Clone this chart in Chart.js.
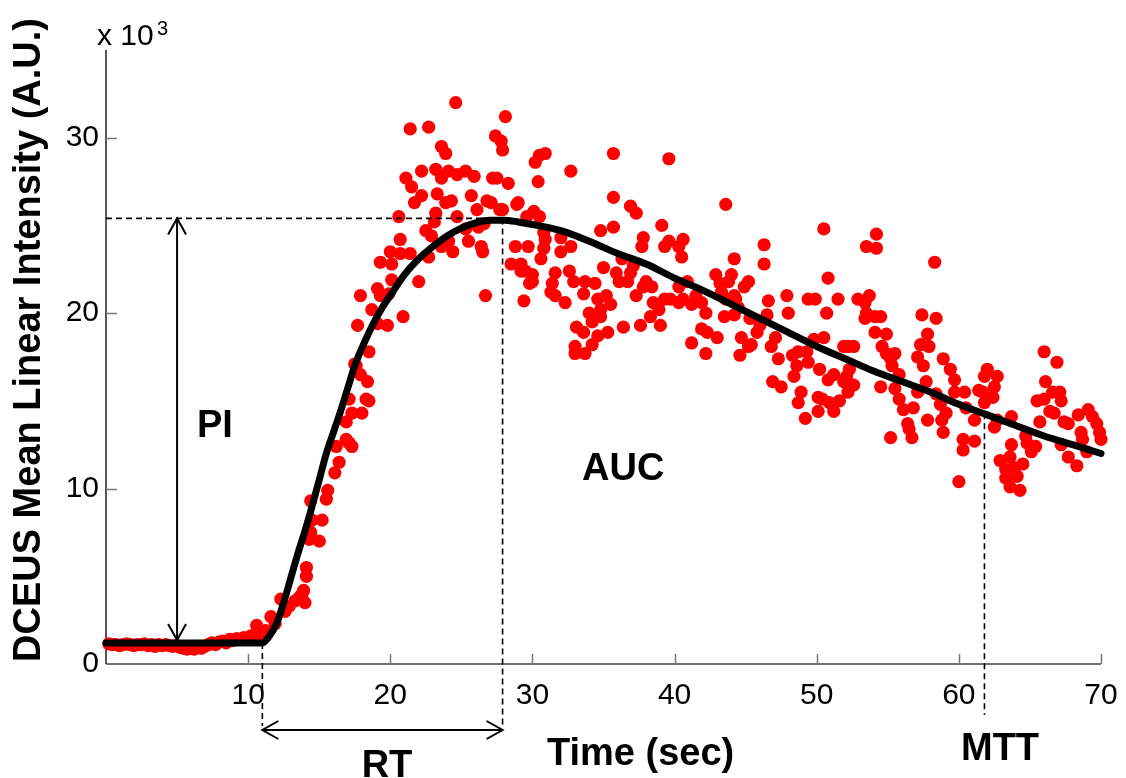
<!DOCTYPE html>
<html>
<head>
<meta charset="utf-8">
<script src="https://cdn.jsdelivr.net/npm/chart.js@4.4.0/dist/chart.umd.min.js"></script>
<style>
  html, body { margin: 0; padding: 0; background: #fff; }
  #wrap { width: 1126px; height: 778px; }
</style>
</head>
<body>
<div id="wrap"><canvas id="curve" width="1126" height="778"></canvas></div>
<script>
// tick values (time in sec, intensity in x10^3 A.U.)
const xTicks = [10, 20, 30, 40, 50, 60, 70];
const yTicks = [0, 10, 20, 30];

// fitted perfusion model curve
const fitTime = [0, 2, 4, 6, 8, 10, 11, 11.5, 12, 12.5, 13, 13.5, 14, 14.5, 15, 15.5, 16, 16.5, 17, 17.5,
  18, 18.5, 19, 19.5, 20, 21, 22, 23, 24, 25, 26, 27, 28, 29, 30, 32, 34, 36, 38, 40,
  42, 44, 46, 48, 50, 52, 54, 56, 58, 60, 62, 64, 66, 68, 70];
const fitValue = [1.2, 1.2, 1.2, 1.2, 1.2, 1.2, 1.2, 1.6, 2.3, 3.5, 4.9, 6.3, 7.6, 9.0, 10.5, 12.0, 13.2, 14.4, 15.7, 17.0,
  18.0, 18.9, 19.7, 20.4, 21.0, 22.2, 23.1, 23.8, 24.4, 24.85, 25.15, 25.3, 25.3, 25.2, 25.05, 24.7, 24.1, 23.4, 22.8, 22.0,
  21.3, 20.5, 19.7, 18.9, 18.1, 17.4, 16.7, 16.1, 15.5, 14.8, 14.2, 13.6, 13.0, 12.5, 12.0];

// measured samples [time, intensity]
const baselineSamples = [
  [0.2,1.15],[0.45,1.1],[0.7,1.1],[0.95,1.05],[1.2,1.1],[1.45,1.15],[1.7,1.1],[1.95,1.05],[2.2,1.1],[2.45,1.1],
  [2.7,1.15],[2.95,1.05],[3.2,1.1],[3.45,1.0],[3.7,1.1],[3.95,1.05],[4.2,1.1],[4.45,1.05],[4.7,1.0],[4.95,1.05],
  [5.2,0.95],[5.45,0.9],[5.7,0.85],[5.95,0.9],[6.2,0.85],[6.45,0.95],[6.7,0.9],[6.95,1.0],[7.2,1.1],[7.45,1.2],
  [7.7,1.1],[7.95,1.25],[8.2,1.3],[8.45,1.2],[8.7,1.4],[8.95,1.35],[9.2,1.45],[9.45,1.4],[9.7,1.5],[9.95,1.45],
  [10.2,1.6],[10.45,1.55],[10.7,1.7],[10.95,1.65]
];
const washInSamples = [
  [10.6,2.2],[11.2,1.9],[11.6,2.7],[11.9,2.3],[12.3,3.7],[12.6,3.0],[12.9,3.3],[13.3,3.6],[13.6,3.8],[13.8,4.0],
  [13.9,4.2],[14.0,3.5],[14.1,5.0],[14.1,5.5],[14.3,7.1],[14.4,7.5],[14.5,8.2],[14.4,9.3],[15.2,8.2],[15.0,7.0],
  [15.5,9.4],[15.6,9.9],[16.1,10.9],[16.4,11.5],[16.2,12.4],[16.9,12.8],[17.3,12.4],[17.1,12.6],[16.9,13.8],[17.3,14.3],
  [18.0,14.3],[17.1,15.1],[18.3,15.1],[18.5,15.0],[18.4,16.1],[17.9,16.5],[17.5,17.1],[17.6,17.0],[18.5,17.8],[17.7,19.3],
  [19.8,19.3],[19.1,19.4],[20.9,19.8],[18.7,20.2],[19.3,21.0],[19.1,21.4],[17.9,21.0],[19.9,21.1],[22.0,21.8],[20.1,21.9],
  [19.3,22.9],[20.1,22.8],[20.0,23.5],[20.7,23.4],[21.4,23.4],[20.7,24.2],[20.6,25.5]
];
const peakSamples = [
  [21.4,30.5],[22.7,30.6],[24.6,32.0],[27.4,30.1],[27.8,29.8],[27.9,29.3],[28.1,31.2],[23.6,29.5],[23.9,29.1],
  [21.5,27.2],[21.1,27.7],[22.2,28.1],[23.2,28.2],[24.1,28.1],[24.7,27.9],[25.3,28.1],[25.9,27.8],[27.2,27.7],[27.5,27.7],
  [28.3,27.4],[30.2,28.6],[30.4,27.5],[23.6,27.7],[30.9,29.1],[30.5,29.0],
  [21.7,26.3],[22.2,26.7],[23.3,26.8],[23.9,26.3],[24.3,26.4],[25.7,26.7],[27.1,26.3],[27.9,25.9],[28.9,26.2],[30.1,25.8],
  [26.1,25.9],[26.8,26.4],[27.7,25.9],[29.0,26.3],
  [23.1,25.2],[23.2,25.7],[24.7,25.5],[26.2,24.9],[25.3,24.8],[22.5,24.7],[22.9,24.4],[26.6,25.1],[29.6,25.5],[30.5,25.5],
  [23.6,23.8],[24.4,23.5],[24.1,24.1],[25.5,24.1],[26.4,23.8],[26.5,23.5],[22.7,23.2],[30.8,24.6],[30.9,24.2],
  [28.8,23.8],[29.7,23.8],[28.5,22.8],[29.2,22.8],[29.5,22.4],[30.0,21.8],[26.7,21.0],[29.4,20.7],[30.6,23.1],[30.8,23.7],
  [29.2,22.4],[30.0,22.2],[29.8,21.7],[31.6,22.3],[32.6,22.4],[31.4,21.7],[31.3,21.2],[32.9,21.8],[31.6,21.0],[32.3,20.6]
];
const washOutSamples = [
  [32.7,28.1],[35.7,29.1],[39.6,28.8],[35.7,26.6],[36.9,26.1],[37.3,25.7],[43.6,26.2],
  [34.8,24.7],[35.7,24.9],[32.0,24.3],[32.7,23.8],[32.0,23.5],[39.1,25.0],[37.8,24.3],[37.7,23.8],[39.6,24.1],[40.6,24.2],
  [40.3,23.8],[40.5,23.2],[39.3,23.8],[36.3,23.1],[37.1,22.7],[36.1,21.8],[36.7,21.8],[35.0,22.6],[35.9,22.3],
  [46.3,23.9],[46.3,22.8],[44.2,23.1],[50.5,24.8],[54.2,24.5],[53.5,23.8],[54.2,23.7],[58.3,22.9],[50.8,22.0],
  [33.7,21.8],[34.4,21.7],[33.6,21.1],[34.6,20.8],[35.2,21.0],[35.5,20.5],[34.0,20.0],[34.8,20.2],[34.2,19.5],[34.8,19.8],
  [33.1,19.2],[33.6,18.9],[34.6,18.7],[35.3,18.9],[34.2,18.2],[33.0,18.1],[33.0,17.7],[33.7,17.7],[36.4,19.2],[37.6,19.3],
  [37.3,21.0],[37.8,21.5],[38.4,21.5],[38.0,21.8],[36.9,22.3],[38.5,20.6],[38.9,20.2],[38.3,19.8],[39.0,19.3],[39.3,20.8],
  [39.7,20.8],[40.3,20.6],[40.6,20.8],[41.2,20.5],[40.9,21.8],[40.3,21.5],[41.5,21.0],[41.9,20.6],[42.2,20.0],[42.9,22.2],
  [43.2,21.7],[43.8,21.8],[43.3,21.2],[43.6,20.8],[44.0,22.2],[44.2,21.0],[44.3,20.8],[45.2,21.8],[44.9,21.5],[44.5,20.3],
  [43.5,19.8],[44.2,19.9],[41.9,19.1],[42.3,18.9],[43.0,18.6],[41.2,18.3],[42.2,17.7],[44.7,18.6],[44.6,17.6],[45.2,18.1],
  [45.4,18.2],[45.8,18.9],[46.5,19.9],[46.6,20.7],[45.3,19.7],[46.0,19.3],[47.1,18.6],[46.8,18.1],[47.3,17.4],[46.9,16.1],
  [47.5,15.8],[47.9,21.0],[48.0,20.0],[48.3,17.6],[48.7,17.8],[48.6,17.0],[49.3,17.8],[49.4,17.2],[48.4,16.4],[48.9,15.5],
  [48.7,14.9],[49.2,14.0],[50.2,16.8],[49.4,20.8],[49.9,20.8],[49.8,18.5],[50.5,18.6],[50.7,20.0],[50.1,15.2],[50.4,15.1],
  [50.1,14.4],[50.9,14.9],[51.2,14.4],[51.6,15.0],[50.8,16.2],[51.2,16.5],[51.5,20.8],[51.9,18.1],[52.2,18.1],[52.6,18.1],
  [52.1,16.4],[51.9,16.1],[52.6,15.9],[52.2,15.5],[52.3,16.8],[52.9,20.8],[53.4,20.6],[53.5,20.0],[53.4,19.7],[54.1,19.8],
  [53.7,21.0],[54.5,19.8],[54.1,18.9],[54.5,15.8],[54.9,18.8],[54.6,18.1],[54.9,17.7],[55.5,17.7],[55.2,17.4],[55.3,17.0],
  [55.8,16.5],[55.5,15.7],[55.8,15.1],[56.1,14.5],[55.2,12.9],[56.4,13.7],[56.5,13.4],[56.7,12.9],[56.8,14.6],[57.1,15.5],
  [57.1,17.5],[57.5,17.0],[57.4,19.9],[58.4,19.7],[57.8,18.8],[57.3,18.2],[57.9,18.1],[57.7,16.1],[58.4,15.4],[58.7,14.8],
  [57.8,13.9],[58.8,13.9],[58.9,13.2],[59.1,14.3],[59.4,16.8],[59.7,16.2],[58.9,17.4],[60.3,12.2],[60.3,12.8],[61.1,12.7],
  [60.0,10.4],[60.4,15.5],[59.7,15.5],[60.5,14.6],[61.1,13.9],[62.0,16.8],[61.8,16.4],[61.7,15.5],[61.4,15.6],[62.7,16.4],
  [62.5,15.8],[62.4,15.2],[61.8,14.9],[62.7,13.9],[62.5,13.5],[63.7,14.1],[63.7,12.5],[62.9,11.6],[63.6,11.8],[63.3,11.1],
  [63.3,10.6],[63.9,11.2],[64.1,10.7],[64.3,9.9],[63.6,10.1],[64.5,11.4],[64.8,12.6],[65.1,12.1],[65.4,12.4],[64.7,13.0],
  [65.7,13.8],[66.0,17.8],[66.9,17.2],[66.1,16.1],[66.0,15.1],[65.5,15.0],[66.6,15.5],[67.1,15.5],[67.2,15.0],[66.4,14.4],
  [66.7,14.3],[67.4,13.8],[67.7,13.7],[68.4,14.2],[69.1,14.5],[69.4,14.1],[69.7,13.7],[69.9,13.2],[70.0,12.8],[68.6,13.2],
  [68.7,12.8],[67.7,11.8],[68.3,11.3],[69.0,12.1],[67.2,12.5]
];

// perfusion parameters marked on the plot
const baselineValue = 1.2;
const peakValue = 25.4;
const peakTime = 27.9;
const arrivalTime = 11.0;
const piTime = 5.0;
const mttTime = 61.8;
const mttValue = 14.3;

const FONT = "'Liberation Sans', Arial, Helvetica, sans-serif";

function toPoints(list) {
  return list.map(p => ({ x: p[0], y: p[1] }));
}

function dashed(ctx, x1, y1, x2, y2) {
  ctx.save();
  ctx.setLineDash([6, 4]);
  ctx.lineWidth = 1.6;
  ctx.strokeStyle = '#000';
  ctx.beginPath();
  ctx.moveTo(x1, y1);
  ctx.lineTo(x2, y2);
  ctx.stroke();
  ctx.restore();
}

// open "V" head at (x, y) pointing along angle
function arrowHead(ctx, x, y, angle) {
  const len = 16, half = 9;
  ctx.beginPath();
  ctx.moveTo(x - len * Math.cos(angle) + half * Math.sin(angle), y - len * Math.sin(angle) - half * Math.cos(angle));
  ctx.lineTo(x, y);
  ctx.lineTo(x - len * Math.cos(angle) - half * Math.sin(angle), y - len * Math.sin(angle) + half * Math.cos(angle));
  ctx.stroke();
}

const annotations = {
  id: 'annotations',
  beforeDatasetsDraw(chart) {
    const ctx = chart.ctx, xs = chart.scales.x, ys = chart.scales.y;
    ctx.save();
    ctx.lineWidth = 1.5;
    // axes
    ctx.strokeStyle = '#222';
    ctx.beginPath();
    ctx.moveTo(xs.left, ys.top);
    ctx.lineTo(xs.left, ys.bottom);
    ctx.stroke();
    ctx.strokeStyle = '#444';
    ctx.beginPath();
    ctx.moveTo(xs.left, ys.bottom);
    ctx.lineTo(xs.right, ys.bottom);
    ctx.stroke();
    // inward tick marks
    ctx.strokeStyle = '#777';
    ctx.beginPath();
    xTicks.forEach(v => {
      const px = Math.round(xs.getPixelForValue(v)) + 0.5;
      ctx.moveTo(px, ys.bottom);
      ctx.lineTo(px, ys.bottom - 10);
    });
    yTicks.slice(1).forEach(v => {
      const py = Math.round(ys.getPixelForValue(v)) + 0.5;
      ctx.moveTo(xs.left, py);
      ctx.lineTo(xs.left + 11, py);
    });
    ctx.stroke();
    ctx.restore();
  },
  afterDatasetsDraw(chart) {
    const ctx = chart.ctx, xs = chart.scales.x, ys = chart.scales.y;
    const px = v => xs.getPixelForValue(v), py = v => ys.getPixelForValue(v);
    ctx.save();

    // peak and time markers
    dashed(ctx, xs.left, py(peakValue), px(peakTime), py(peakValue));
    dashed(ctx, px(peakTime), py(peakValue), px(peakTime), ys.bottom + 62);
    dashed(ctx, px(arrivalTime), py(baselineValue), px(arrivalTime), ys.bottom + 62);
    dashed(ctx, px(mttTime), py(mttValue), px(mttTime), ys.bottom + 51);

    ctx.strokeStyle = '#000';
    ctx.lineWidth = 2;
    // PI double arrow
    const ax = px(piTime), top = py(peakValue), bot = py(baselineValue) - 3;
    ctx.beginPath();
    ctx.moveTo(ax, top);
    ctx.lineTo(ax, bot);
    ctx.stroke();
    arrowHead(ctx, ax, top, -Math.PI / 2);
    arrowHead(ctx, ax, bot, Math.PI / 2);
    // RT double arrow
    const ry = ys.bottom + 66, rl = px(arrivalTime), rr = px(peakTime);
    ctx.beginPath();
    ctx.moveTo(rl, ry);
    ctx.lineTo(rr, ry);
    ctx.stroke();
    arrowHead(ctx, rl, ry, Math.PI);
    arrowHead(ctx, rr, ry, 0);

    // labels
    ctx.fillStyle = '#000';
    ctx.textBaseline = 'alphabetic';
    ctx.textAlign = 'left';
    ctx.font = 'bold 38px ' + FONT;
    ctx.fillText('PI', 197, 437);
    ctx.fillText('AUC', 582, 480);
    ctx.fillText('Time (sec)', 547, 765);
    ctx.fillText('MTT', 961, 760);
    ctx.textAlign = 'center';
    ctx.fillText('RT', 387, 777);

    // exponent note
    ctx.textAlign = 'left';
    ctx.font = '30px ' + FONT;
    ctx.fillText('x 10', 97, 45);
    ctx.font = '20px ' + FONT;
    ctx.fillText('3', 157, 35);

    // y axis title
    ctx.translate(40, 340);
    ctx.rotate(-Math.PI / 2);
    ctx.textAlign = 'center';
    ctx.font = 'bold 38px ' + FONT;
    ctx.fillText('DCEUS Mean Linear Intensity (A.U.)', 0, 0);
    ctx.restore();
  }
};

const fitPoints = fitTime.map((t, i) => ({ x: t, y: fitValue[i] }));
const samplePoints = toPoints(baselineSamples)
  .concat(toPoints(washInSamples), toPoints(peakSamples), toPoints(washOutSamples));

new Chart(document.getElementById('curve'), {
  type: 'line',
  data: {
    datasets: [{
      label: 'Fit',
      data: fitPoints,
      borderColor: '#000',
      borderWidth: 7,
      pointRadius: 0,
      cubicInterpolationMode: 'monotone',
      borderCapStyle: 'round',
      borderJoinStyle: 'round',
      fill: false,
      clip: false
    }, {
      label: 'Samples',
      data: samplePoints,
      showLine: false,
      pointRadius: 6.6,
      pointBorderWidth: 0,
      pointBackgroundColor: '#ff0000',
      pointBorderColor: '#ff0000',
      clip: false
    }]
  },
  options: {
    responsive: false,
    devicePixelRatio: 1,
    animation: false,
    layout: { padding: { left: 0, top: 50, right: 25, bottom: 0 } },
    plugins: { legend: { display: false }, tooltip: { enabled: false } },
    scales: {
      x: {
        type: 'linear',
        min: 0,
        max: 70,
        grid: { display: false, drawTicks: false },
        border: { display: false },
        afterBuildTicks: s => { s.ticks = xTicks.map(v => ({ value: v })); },
        afterFit: s => { s.height = 114; s.paddingLeft = 0; s.paddingRight = 0; },
        ticks: {
          color: '#000',
          padding: 14,
          maxRotation: 0,
          font: { family: FONT, size: 30 }
        }
      },
      y: {
        type: 'linear',
        min: 0,
        max: 35,
        grid: { display: false, drawTicks: false },
        border: { display: false },
        afterBuildTicks: s => { s.ticks = yTicks.map(v => ({ value: v })); },
        afterFit: s => { s.width = 106; s.paddingTop = 0; s.paddingBottom = 0; },
        ticks: {
          color: '#000',
          padding: 7,
          font: { family: FONT, size: 30 }
        }
      }
    }
  },
  plugins: [annotations]
});
</script>
</body>
</html>
